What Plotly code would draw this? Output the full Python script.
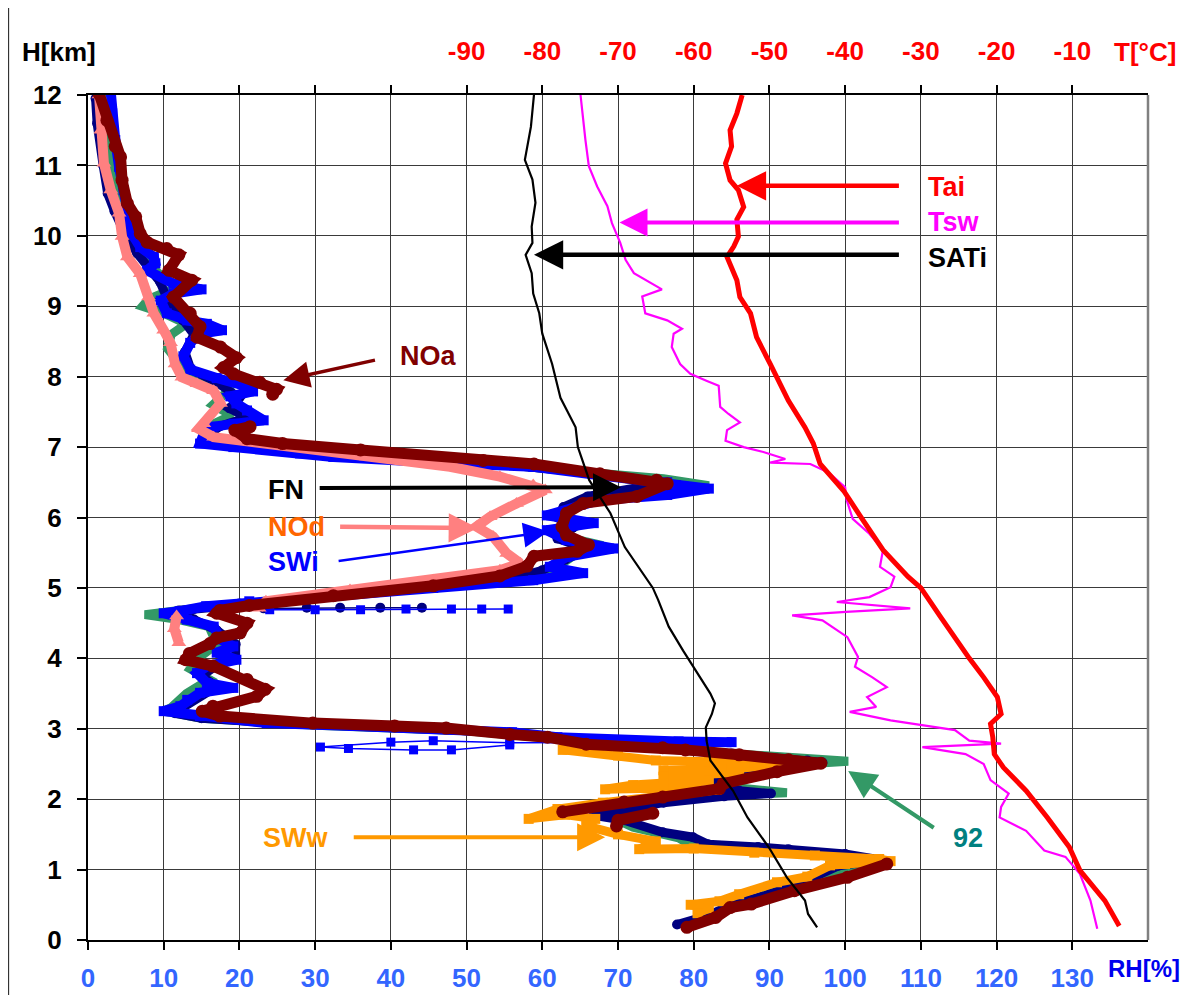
import plotly.graph_objects as go

# ---------------- data (RH in %, H in km, T in deg C) ----------------
NOa = [(1.45,12.02),(2.5,11.64),(3.6,11.27),(4.3,11.12),(4.5,10.79),(5.2,10.46),(6.3,10.27),(6.9,10.03),
       (7.8,9.91),(10.4,9.82),(12.0,9.73),(10.7,9.51),(13.7,9.37),(11.3,9.13),(13.5,8.9),(14.8,8.71),
       (14.4,8.56),(17.5,8.42),(19.6,8.27),(17.9,8.13),(19.2,8.04),(22.7,7.92),(24.9,7.82),(24.4,7.75),
       None,
       (21.4,7.29),(19.4,7.24),(21.0,7.12),(25.7,7.05),(36.0,6.96),(52.2,6.81),(58.9,6.76),(67.6,6.62),
       (75.1,6.53),(76.5,6.48),(72.5,6.3),(65.4,6.2),(63.2,6.06),(62.6,5.87),(63.2,5.75),(66.1,5.61),
       (64.6,5.52),(58.9,5.45),(58.0,5.31),(54.4,5.17),(45.6,5.03),(32.4,4.89),(21.3,4.75),(17.4,4.68),
       (17.0,4.64),(21.0,4.5),(20.1,4.36),(17.0,4.29),(16.1,4.21),(13.4,4.07),(12.9,3.98),(16.5,3.89),
       (21.0,3.7),(23.4,3.56),(22.3,3.46),(16.5,3.32),(15.1,3.25),(17.4,3.18),(29.7,3.08),(40.5,3.04),
       (47.3,3.01),(55.7,2.92),(60.7,2.88),(65.8,2.78),(75.9,2.73),(78.9,2.70),(86.0,2.63),(92.5,2.56),
       (96.8,2.51),(91.0,2.39),(83.9,2.22),(83.4,2.15),(75.9,2.03),(70.8,1.96),(62.7,1.82),
       None,
       (74.6,1.80),(70.0,1.70),(69.8,1.62),
       None,
       (105.5,1.08),(100.3,0.89),(93.3,0.70),(87.6,0.51),(84.8,0.46),(82.9,0.32),(79.1,0.18)]

NOd = [(1.45,12.0),(1.7,11.5),(2.1,11.03),(3.0,10.65),(4.1,10.32),(4.5,9.99),(5.2,9.7),(6.9,9.46),
       (8.0,9.13),(8.7,8.9),(10.0,8.66),(10.9,8.48),(11.5,8.18),(12.4,7.99),(14.4,7.9),(16.6,7.8),
       (17.5,7.62),(15.3,7.33),(14.6,7.26),(16.6,7.14),(21.4,7.07),(28.0,6.98),(36.8,6.86),(47.8,6.72),
       (54.4,6.58),(58.8,6.46),(60.4,6.39),(56.6,6.2),(53.1,6.01),(51.3,5.87),(53.5,5.73),(55.3,5.49),
       (57.1,5.35),(54.4,5.25),(45.6,5.11),(34.6,4.97),(23.5,4.81),(22.6,4.71),
       None,
       (11.7,4.6),(11.4,4.42),(12.0,4.22)]

SWi = [(3.0,12.05),(3.2,11.74),(3.6,11.36),(4.1,10.98),(4.7,10.65),(5.0,10.32),(5.8,10.03),(6.9,9.84),
       (8.7,9.7),(8.9,9.61),(7.8,9.51),(11.3,9.32),(15.0,9.24),(11.3,9.18),(9.6,9.08),(10.4,8.9),
       (13.1,8.8),(15.7,8.75),(17.7,8.66),(14.8,8.61),(13.5,8.48),(12.6,8.29),(13.5,8.1),(17.0,7.98),
       (21.0,7.86),(21.8,7.79),(18.8,7.72),(19.6,7.62),(21.0,7.52),(23.2,7.38),(19.2,7.33),(16.6,7.29),
       (15.3,7.19),(14.8,7.05),(19.2,7.0),(28.0,6.91),(32.4,6.86),(50.0,6.76),(58.8,6.72),(67.6,6.6),
       (76.5,6.5),(82.0,6.41),(76.5,6.32),(67.6,6.25),(60.6,6.03),(66.8,5.92),(60.6,5.82),(63.2,5.68),
       (69.4,5.56),(63.2,5.44),(61.0,5.3),(65.4,5.21),(58.8,5.11),(45.6,5.0),(32.4,4.9),(21.3,4.81),
       (15.6,4.74),(12.1,4.67),(10.0,4.64),(13.1,4.55),(16.6,4.45),(17.5,4.27),(19.2,4.17),(17.0,4.08),
       (19.6,3.98),(15.7,3.89),(14.4,3.79),(15.7,3.65),(19.2,3.58),(14.8,3.51),(13.1,3.41),(12.2,3.32),
       (10.0,3.25),(14.8,3.18),(23.6,3.08),(35.0,3.04),(47.0,3.0),(56.0,2.95),(62.0,2.88),(70.0,2.84),
       (78.0,2.82),(85.0,2.81)]
SWi_spike_a = [(12.0,4.66),(18.0,4.68),(24.0,4.69),(30.0,4.69),(36.0,4.69),(42.0,4.70),(48.0,4.70),
               (52.0,4.70),(55.5,4.70)]
SWi_spike_b = [(85.0,2.81),(70.0,2.80),(55.7,2.80),(45.6,2.83),(40.0,2.81),(30.7,2.74),(34.4,2.72),
               (43.0,2.70),(48.0,2.70),(55.7,2.77)]

FN = [(1.0,11.95),(1.2,11.6),(2.0,11.0),(2.6,10.6),(3.5,10.35),(5.0,10.0),(6.5,9.75),(8.0,9.55),
      (9.5,9.35),(10.5,9.1),(12.5,8.8),(14.0,8.6),(12.8,8.35),(13.6,8.1),(17.0,7.92),(20.0,7.7),
      (18.7,7.55),(21.0,7.42),(17.5,7.3),(15.5,7.15),(16.0,7.05),(25.0,6.95),(40.0,6.85),(55.0,6.75),
      (65.0,6.65),(72.0,6.55),(78.0,6.46),(72.9,6.43),(66.0,6.3),(62.8,6.15),(62.0,6.0),(64.0,5.85),
      (62.0,5.7),(66.0,5.55),(63.0,5.4),(60.0,5.25),(55.0,5.1),(45.0,5.0),(32.0,4.88),(20.0,4.78),
      (12.0,4.68),(14.0,4.55),(17.0,4.4),(19.5,4.2),(19.5,4.0),(17.0,3.9),(15.0,3.75),(17.0,3.6),
      (14.5,3.45),(12.5,3.3),(11.5,3.22),(15.0,3.15),(25.0,3.08),(40.0,3.02),(55.0,2.95),(65.0,2.85),
      (75.0,2.75),(85.0,2.65),(95.0,2.55),(97.0,2.52),(90.0,2.4),(84.0,2.3),(82.4,2.22),(86.0,2.12),
      (90.2,2.08),(84.0,2.04),(76.0,1.95),(70.0,1.85),(66.8,1.77),(70.8,1.7),(75.9,1.53),(79.9,1.46),
      (81.9,1.36),(88.5,1.32),(92.5,1.29),(100.0,1.22),(104.5,1.14),(99.0,1.05),(95.0,0.85),
      (90.0,0.65),(85.0,0.5),(82.0,0.35),(77.8,0.22)]
FN_spike = [(14.0,4.70),(23.2,4.71),(28.9,4.72),(33.3,4.72),(38.6,4.72),(44.1,4.72)]

S92 = [(2.0,12.0),(2.5,11.5),(3.0,11.0),(4.0,10.6),(5.0,10.2),(6.0,9.9),(8.0,9.6),(10.0,9.4),
       (12.0,9.28),(8.0,9.1),(7.2,9.0),(10.0,8.9),(13.0,8.75),(11.0,8.6),(10.5,8.4),(12.0,8.2),
       (14.0,8.0),(19.0,7.85),(16.5,7.6),(19.0,7.45),(15.0,7.25),(17.0,7.1),(30.0,6.95),(50.0,6.8),
       (65.0,6.65),(76.0,6.55),(82.0,6.45),(74.0,6.35),(66.0,6.25),(62.0,6.05),(65.0,5.9),(62.0,5.75),
       (68.0,5.6),(64.0,5.45),(62.0,5.3),(58.0,5.15),(45.0,5.02),(30.0,4.9),(15.0,4.72),(7.5,4.62),
       (12.0,4.55),(16.0,4.45),(17.0,4.2),(14.5,4.0),(13.5,3.85),(16.0,3.7),(13.0,3.5),(11.0,3.3),
       (10.0,3.25),(15.0,3.15),(30.0,3.05),(50.0,2.97),(65.0,2.82),(80.0,2.68),(92.0,2.6),(100.4,2.54),
       (92.0,2.48),(84.0,2.3),(82.0,2.2),(92.3,2.09),(84.0,2.06),(75.0,1.95),(68.0,1.8),(72.0,1.6),
       (78.0,1.45),(80.4,1.3),(88.0,1.3),(96.0,1.22),(104.0,1.12),(100.0,0.95),(92.0,0.75),(85.0,0.45),
       (79.0,0.2)]

SWw = [(62.7,2.70),(70.0,2.62),(75.0,2.55),(82.0,2.53),(88.0,2.52),(91.5,2.49),(85.0,2.43),(76.0,2.41),
       (86.0,2.38),(76.0,2.32),(82.0,2.27),(72.0,2.2),(68.3,2.14),(76.0,2.16),(83.0,2.13),(75.0,2.05),
       (68.0,1.95),(62.0,1.86),(58.2,1.72),(63.0,1.78),(67.0,1.72),(65.8,1.62),(70.0,1.5),(75.0,1.4),
       (72.8,1.29),(80.0,1.3),(88.0,1.24),(96.0,1.2),(104.5,1.15),(106.0,1.12),(100.0,1.08),(98.0,1.06),
       (95.0,0.9),(91.0,0.82),(86.0,0.65),(83.4,0.55),(79.6,0.5),(82.0,0.45),(80.5,0.38)]

SATi = [(-81.1,12.0),(-81.5,11.55),(-82.3,11.08),(-81.3,10.8),(-80.9,10.47),(-81.4,10.13),(-81.3,9.9),
        (-82.2,9.73),(-81.4,9.47),(-81.2,9.18),(-80.4,8.9),(-80.0,8.61),(-78.7,8.18),(-77.6,7.7),
        (-75.6,7.28),(-75.3,7.0),(-73.8,6.53),(-71.0,6.06),(-69.1,5.58),(-65.4,5.0),(-64.7,4.83),
        (-63.3,4.45),(-61.4,4.11),(-59.5,3.78),(-57.8,3.5),(-57.2,3.36),(-57.6,3.21),(-58.4,3.02),
        (-58.3,2.83),(-57.8,2.55),(-54.8,2.12),(-52.9,1.74),(-50.1,1.32),(-47.7,0.89),(-45.3,0.56),
        (-44.9,0.37),(-43.7,0.18)]

Tsw = [(-74.95,12.0),(-74.7,11.74),(-74.3,11.36),(-73.85,10.99),(-72.75,10.7),(-71.4,10.42),(-70.8,10.18),
       (-69.7,9.9),(-69.0,9.66),(-67.9,9.47),(-65.7,9.33),(-64.2,9.24),(-66.8,9.14),(-66.4,8.9),
       (-63.5,8.8),(-61.55,8.68),(-62.65,8.61),(-62.9,8.42),(-61.8,8.18),(-60.45,8.04),(-58.25,7.94),
       (-56.7,7.87),(-56.5,7.57),(-55.4,7.47),(-53.9,7.35),(-55.6,7.24),(-55.8,7.09),(-53.4,7.0),
       (-50.8,6.93),(-47.9,6.83),(-49.9,6.78),(-44.6,6.76),(-42.2,6.64),(-40.0,6.43),(-39.8,6.25),
       (-39.0,5.98),(-36.8,5.77),(-35.0,5.54),(-35.4,5.3),(-33.5,5.16),(-34.0,5.01),(-36.8,4.87),
       (-41.1,4.8),(-31.4,4.71),(-39.9,4.66),(-47.0,4.61),(-43.0,4.54),(-41.1,4.4),(-39.7,4.3),
       (-38.3,4.02),(-38.7,3.88),(-36.4,3.73),(-34.5,3.59),(-37.1,3.45),(-35.9,3.31),(-39.4,3.24),
       (-34.0,3.12),(-25.5,2.98),(-23.6,2.83),(-19.4,2.79),(-29.8,2.74),(-24.1,2.64),(-21.7,2.5),
       (-20.8,2.27),(-18.4,2.08),(-19.4,1.89),(-19.6,1.74),(-16.1,1.55),(-13.7,1.27),(-10.9,1.18),
       (-9.0,0.94),(-7.6,0.56),(-6.7,0.16)]

Tai = [(-53.6,12.0),(-54.3,11.74),(-55.2,11.5),(-55.0,11.27),(-55.8,11.03),(-55.2,10.79),(-54.1,10.65),
       (-53.4,10.41),(-54.3,10.23),(-54.1,9.99),(-54.7,9.85),(-55.6,9.7),(-54.3,9.37),(-53.9,9.13),
       (-52.5,8.9),(-51.7,8.56),(-49.9,8.18),(-48.8,7.94),(-47.5,7.66),(-45.3,7.28),(-44.2,7.05),
       (-43.3,6.76),(-40.2,6.38),(-38.0,6.02),(-35.0,5.54),(-31.7,5.16),(-30.0,5.0),(-27.4,4.59),
       (-25.3,4.26),(-23.6,4.0),(-21.7,3.73),(-19.9,3.45),(-19.4,3.21),(-20.8,3.07),(-20.5,2.88),
       (-20.3,2.64),(-19.1,2.45),(-16.1,2.12),(-13.3,1.74),(-10.4,1.32),(-9.0,0.99),(-5.7,0.56),(-3.8,0.2)]

RH_ticks = list(range(0, 140, 10))
T_ticks = list(range(-130, 0, 10))
T_labels = [str(t) if t >= -90 else "" for t in T_ticks]
H_ticks = list(range(0, 13))

FONT = "Liberation Sans, Arial, sans-serif"


def xs(p):
    return [q[0] if q else None for q in p]


def ys(p):
    return [q[1] if q else None for q in p]


fig = go.Figure()


def add_rh(pairs, color, width, symbol=None, msize=0, name=""):
    mode = "lines+markers" if symbol else "lines"
    fig.add_trace(go.Scatter(x=xs(pairs), y=ys(pairs), mode=mode, name=name,
                             line=dict(color=color, width=width),
                             marker=dict(symbol=symbol or "circle", size=msize, color=color),
                             hoverinfo="skip", xaxis="x", yaxis="y"))


add_rh(S92, "#339966", 9, None, 0, "92")
add_rh(FN, "#000080", 9, "circle", 10, "FN")
add_rh(FN_spike, "#000080", 1.5, "circle", 10, "FN")
add_rh(SWw, "#FF9900", 9, "square", 10, "SWw")
add_rh(SWi, "#0000FF", 10, "square", 10, "SWi")
add_rh(SWi_spike_a, "#0000FF", 1.5, "square", 9, "SWi")
add_rh(SWi_spike_b, "#0000FF", 1.5, "square", 9, "SWi")
add_rh(NOd, "#FF8080", 10, "triangle-up", 13, "NOd")
add_rh(NOa, "#800000", 11, "circle", 13, "NOa")

for pairs, color, width, name in [(Tsw, "#FF00FF", 2.2, "Tsw"), (SATi, "#000000", 2.2, "SATi"),
                                  (Tai, "#FF0000", 5, "Tai")]:
    fig.add_trace(go.Scatter(x=xs(pairs), y=ys(pairs), mode="lines", name=name,
                             line=dict(color=color, width=width), hoverinfo="skip",
                             xaxis="x2", yaxis="y"))

ann = []


def label(text, x, y, color, xref="x", size=27):
    ann.append(dict(text=text, x=x, y=y, xref=xref, yref="y", showarrow=False, xanchor="left",
                    yanchor="middle", font=dict(family=FONT, size=size, color=color, weight="bold")))


def arrow(x0, y0, x1, y1, color, width, size, xref="x"):
    ann.append(dict(text="", x=x1, y=y1, ax=x0, ay=y0, xref=xref, yref="y", axref=xref, ayref="y",
                    showarrow=True, arrowhead=2, arrowsize=size, arrowwidth=width, arrowcolor=color,
                    standoff=0, startstandoff=0))


label("NOa", 41.0, 8.29, "#800000")
arrow(38.1, 8.24, 25.8, 7.95, "#800000", 3.5, 1.5)
label("FN", 23.5, 6.39, "#000000")
arrow(30.4, 6.42, 70.4, 6.43, "#000000", 4, 1.4)
label("NOd", 23.5, 5.87, "#FF6600")
arrow(33.1, 5.87, 51.5, 5.85, "#FF8080", 4.5, 1.3)
label("SWi", 23.5, 5.37, "#0000FF")
arrow(32.9, 5.38, 60.8, 5.80, "#0000FF", 2.5, 2.0)
label("SWw", 22.8, 1.45, "#FF9900")
arrow(34.9, 1.46, 68.3, 1.46, "#FF9900", 4, 1.4)
label("92", 114.0, 1.45, "#008080")
arrow(111.9, 1.58, 100.4, 2.40, "#339966", 4, 1.4)
label("Tai", -29.3, 10.70, "#FF0000", xref="x2")
arrow(-32.7, 10.71, -54.3, 10.71, "#FF0000", 4.5, 1.3, xref="x2")
label("Tsw", -29.3, 10.19, "#FF00FF", xref="x2")
arrow(-32.7, 10.19, -69.8, 10.19, "#FF00FF", 4, 1.4, xref="x2")
label("SATi", -29.3, 9.68, "#000000", xref="x2")
arrow(-32.7, 9.73, -81.1, 9.73, "#000000", 4.5, 1.3, xref="x2")

for text, x, y, color, size in [("H[km]", -0.0275, 1.051, "#000000", 26),
                                ("T[°C]", 0.997, 1.051, "#FF0000", 26),
                                ("RH[%]", 0.9965, -0.0335, "#0000EE", 24)]:
    ann.append(dict(text=text, x=x, y=y, xref="paper", yref="paper", showarrow=False,
                    xanchor="center", yanchor="middle",
                    font=dict(family=FONT, size=size, color=color, weight="bold")))

tickfont = dict(family=FONT, size=26, weight="bold")

fig.update_layout(
    width=1183, height=987,
    margin=dict(l=80, r=43, t=87, b=55, autoexpand=False),
    paper_bgcolor="white", plot_bgcolor="white", showlegend=False,
    annotations=ann,
    xaxis=dict(range=[0, 140], tickvals=RH_ticks, ticks="outside", ticklen=8, tickwidth=1.5,
               tickcolor="#000000", showgrid=True, gridcolor="#3a3a3a", gridwidth=1, zeroline=False,
               showline=True, linecolor="#000000", linewidth=2, automargin=False,
               tickfont=dict(tickfont, color="#3366FF"), ticklabelstandoff=6),
    xaxis2=dict(range=[-140, 0], overlaying="x", side="top", tickvals=T_ticks, ticktext=T_labels,
                ticks="outside", ticklen=8, tickwidth=1.5, tickcolor="#000000", showgrid=False,
                zeroline=False, showline=True, linecolor="#000000", linewidth=2, automargin=False,
                tickfont=dict(tickfont, color="#FF0000"), ticklabelstandoff=15),
    yaxis=dict(range=[0, 12], tickvals=H_ticks, ticks="outside", ticklen=9, tickwidth=1.5,
               tickcolor="#000000", showgrid=True, gridcolor="#3a3a3a", gridwidth=1, zeroline=False,
               showline=True, linecolor="#000000", linewidth=2, automargin=False,
               tickfont=dict(tickfont, color="#000000"), ticklabelstandoff=10),
    shapes=[
        dict(type="line", xref="paper", yref="paper", x0=1, x1=1, y0=0, y1=1,
             line=dict(color="#808080", width=2.5)),
        dict(type="rect", xref="paper", yref="paper", x0=-0.0751, x1=1.0377, y0=-0.08, y1=1.104,
             line=dict(color="#333333", width=1.5), layer="below"),
    ],
)

fig.write_html("out.html")
